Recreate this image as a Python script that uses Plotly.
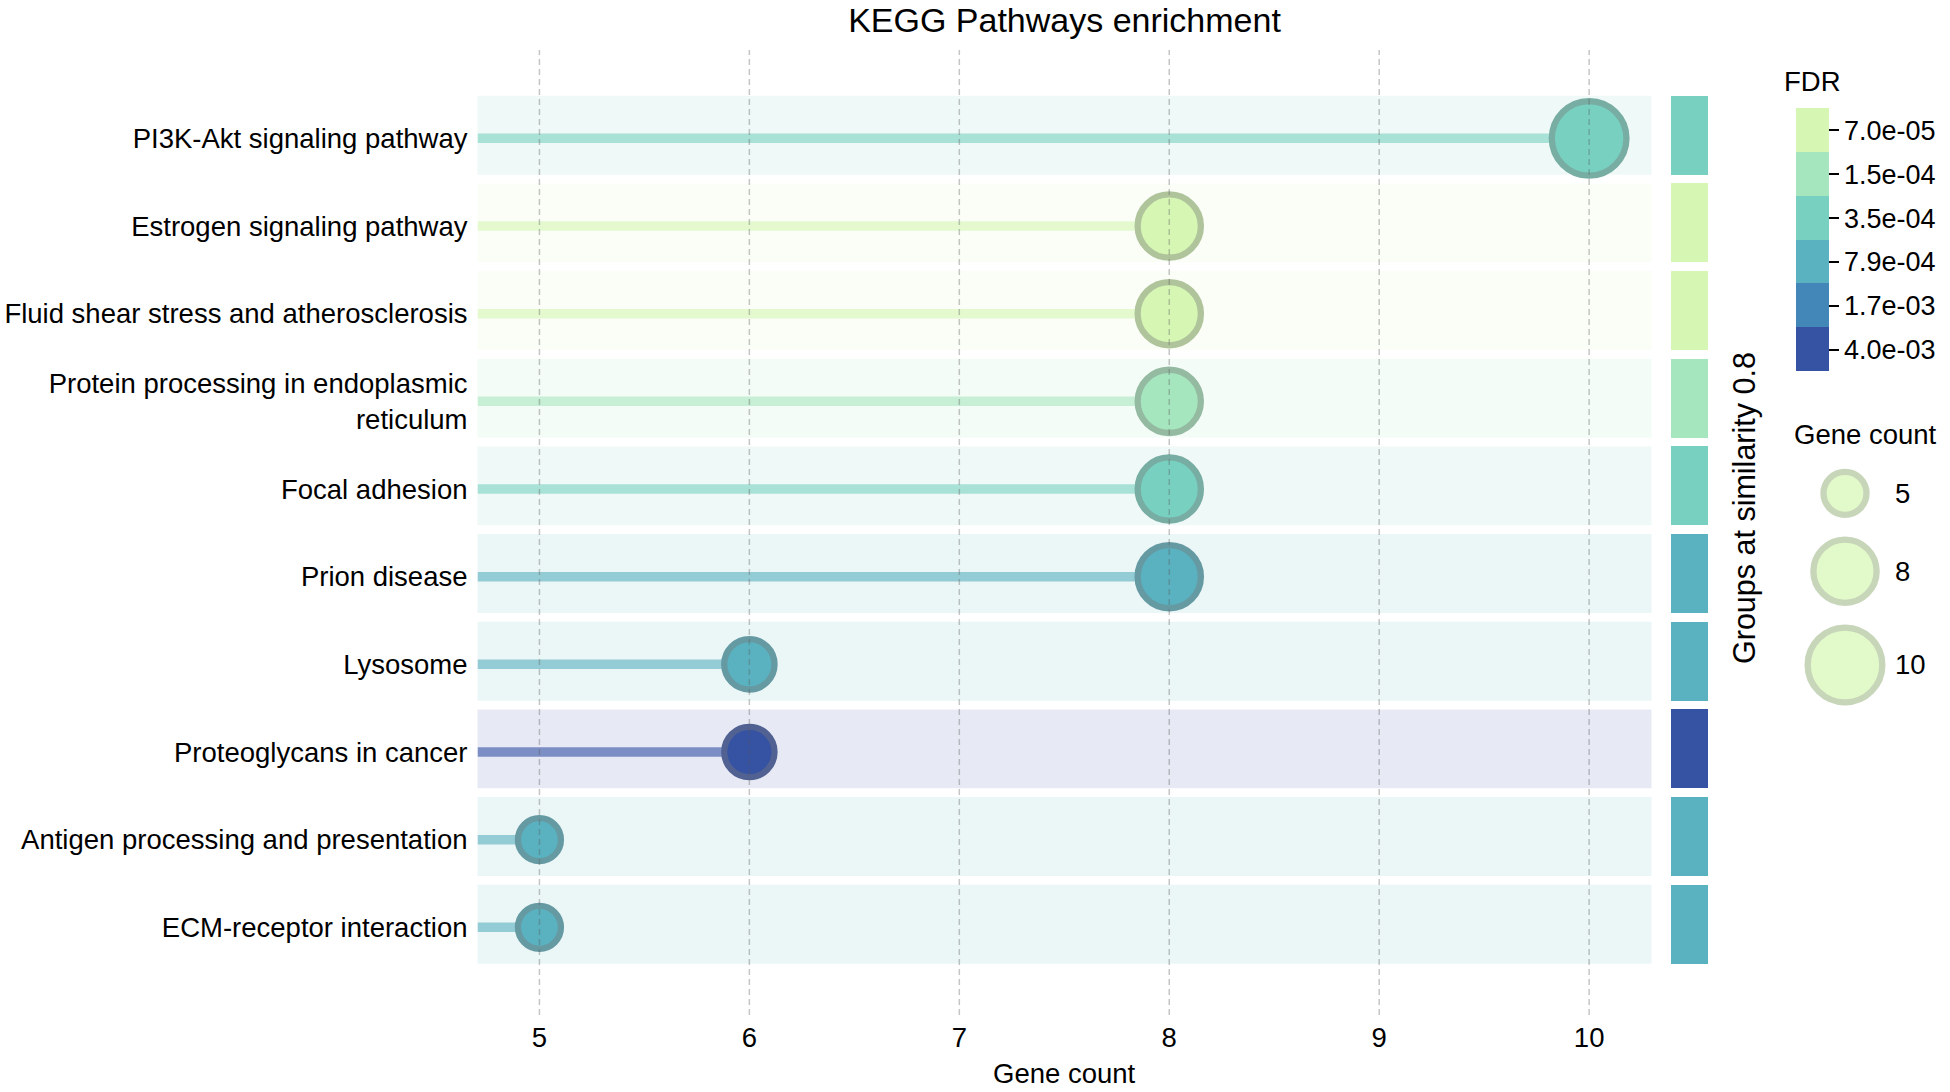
import math
import plotly.graph_objects as go

# ---------------- data ----------------
pathways = [
    "PI3K-Akt signaling pathway",
    "Estrogen signaling pathway",
    "Fluid shear stress and atherosclerosis",
    "Protein processing in endoplasmic<br>reticulum",
    "Focal adhesion",
    "Prion disease",
    "Lysosome",
    "Proteoglycans in cancer",
    "Antigen processing and presentation",
    "ECM-receptor interaction",
]
gene_counts = [10, 8, 8, 8, 8, 8, 6, 6, 5, 5]
fdr_values = [3.5e-04, 7.0e-05, 7.0e-05, 1.5e-04, 3.5e-04, 7.9e-04, 7.9e-04, 4.0e-03, 7.9e-04, 7.9e-04]
group_fdr = [3.5e-04, 7.0e-05, 7.0e-05, 1.5e-04, 3.5e-04, 7.9e-04, 7.9e-04, 4.0e-03, 7.9e-04, 7.9e-04]

fdr_ticks = [7.0e-05, 1.5e-04, 3.5e-04, 7.9e-04, 1.7e-03, 4.0e-03]
fdr_colors = ["#d6f7b4", "#a6e6be", "#78d0c0", "#5ab1c0", "#4287b8", "#3652a3"]
x_ticks = [5, 6, 7, 8, 9, 10]
legend_counts = [5, 8, 10]

# ---------------- geometry / style ----------------
W, H = 1950, 1092
FONT = "Liberation Sans, Arial, sans-serif"
FS = 27.5
X_RANGE = [4.705, 10.297]
Y_RANGE = [10.0, -1.008]
LW = 6.3
BAND_LO, BAND_HI = 0.486, 0.414


def hex_rgb(h):
    h = h.lstrip("#")
    return tuple(int(h[i:i + 2], 16) for i in (0, 2, 4))


def fdr_bin(v):
    lv = math.log10(v)
    return min(range(len(fdr_ticks)), key=lambda i: abs(math.log10(fdr_ticks[i]) - lv))


def border(hexc):
    r, g, b = hex_rgb(hexc)
    return "rgb(%d,%d,%d)" % tuple(round(c * 0.6 + 120 * 0.4) for c in (r, g, b))


def rgba(hexc, a):
    r, g, b = hex_rgb(hexc)
    return "rgba(%d,%d,%d,%.2f)" % (r, g, b, a)


def outer_d(g):
    return 34.2 * math.sqrt(g) - 27.2


rows = list(range(len(pathways)))
bins = [fdr_bin(v) for v in fdr_values]
cols = [fdr_colors[b] for b in bins]
gcols = [fdr_colors[fdr_bin(v)] for v in group_fdr]
nb = len(fdr_ticks)

# stepped colorscale: index 0 (bottom) = largest FDR
cs = []
for k in range(nb):
    c = fdr_colors[nb - 1 - k]
    cs.append([k / nb, c])
    cs.append([(k + 1) / nb, c])

fig = go.Figure()

# stems
for i, g, c in zip(rows, gene_counts, cols):
    fig.add_trace(go.Scatter(
        x=[X_RANGE[0], g], y=[i, i], mode="lines",
        line=dict(color=rgba(c, 0.6), width=9.5),
        hoverinfo="skip", showlegend=False, xaxis="x", yaxis="y"))

# bubbles (carry the FDR colorbar)
fig.add_trace(go.Scatter(
    x=gene_counts, y=rows, mode="markers", showlegend=False,
    marker=dict(
        size=[outer_d(g) - LW for g in gene_counts],
        color=[nb - 1 - b for b in bins],
        colorscale=cs, cmin=-0.5, cmax=nb - 0.5,
        opacity=1,
        line=dict(color=[border(c) for c in cols], width=LW),
        showscale=True,
        colorbar=dict(
            x=1795.7 / W, xanchor="left", xpad=0,
            y=1 - 240 / H, yanchor="middle", ypad=0,
            len=263.4, lenmode="pixels",
            thickness=32.6, thicknessmode="pixels",
            outlinewidth=0,
            tickvals=list(range(nb)),
            ticktext=["%.1e" % v for v in reversed(fdr_ticks)],
            ticks="outside", ticklen=10, tickwidth=2, tickcolor="black",
            tickfont=dict(size=27, color="black", family=FONT),
        ),
    ),
    cliponaxis=False, xaxis="x", yaxis="y"))

# group bars
fig.add_trace(go.Bar(
    x=[1] * len(rows), y=rows, base=0, orientation="h",
    width=BAND_LO + BAND_HI, offset=-BAND_LO,
    marker=dict(color=gcols, line=dict(width=0)),
    showlegend=False, hoverinfo="skip", xaxis="x2", yaxis="y"))

# size legend
leg_y = []
top = 468.7
for g in legend_counts:
    d = outer_d(g)
    leg_y.append(top + d / 2)
    top += d + 18.5
fig.add_trace(go.Scatter(
    x=[1845] * len(legend_counts), y=leg_y, mode="markers", showlegend=False,
    marker=dict(size=[outer_d(g) - LW for g in legend_counts], color=fdr_colors[0],
                line=dict(color=border(fdr_colors[0]), width=LW)),
    cliponaxis=False, hoverinfo="skip", xaxis="x3", yaxis="y3"))

shapes = []
for i, c in zip(rows, cols):
    shapes.append(dict(type="rect", xref="x domain", x0=0, x1=1, yref="y",
                       y0=i - BAND_LO, y1=i + BAND_HI, fillcolor=rgba(c, 0.12),
                       line=dict(width=0), layer="below"))
for t in x_ticks:
    shapes.append(dict(type="line", xref="x", x0=t, x1=t, yref="y domain", y0=0, y1=1,
                       line=dict(color="rgba(90,90,90,0.35)", width=1.5, dash="6px,4px"),
                       layer="above"))

annotations = [
    dict(text="Gene count", xref="paper", yref="paper", x=1064.5 / W, y=1 - 1073 / H,
         xanchor="center", yanchor="middle", showarrow=False, font=dict(size=FS)),
    dict(text="Groups at similarity 0.8", xref="paper", yref="paper", x=1744 / W, y=1 - 508 / H,
         xanchor="center", yanchor="middle", textangle=-90, showarrow=False, font=dict(size=30.5)),
    dict(text="FDR", xref="paper", yref="paper", x=1812 / W, y=1 - 82 / H,
         xanchor="center", yanchor="middle", showarrow=False, font=dict(size=FS)),
    dict(text="Gene count", xref="paper", yref="paper", x=1865 / W, y=1 - 435 / H,
         xanchor="center", yanchor="middle", showarrow=False, font=dict(size=FS)),
]
for g, yy in zip(legend_counts, leg_y):
    annotations.append(dict(text=str(g), xref="x3", yref="y3", x=1893, y=yy,
                            xanchor="left", yanchor="middle", showarrow=False,
                            font=dict(size=FS)))

fig.update_layout(
    width=W, height=H, margin=dict(l=0, r=0, t=0, b=0),
    paper_bgcolor="white", plot_bgcolor="rgba(0,0,0,0)",
    font=dict(family=FONT, size=FS, color="black"),
    title=dict(text="KEGG Pathways enrichment", x=1064.5 / W, xanchor="center",
               y=1 - 20 / H, yanchor="middle", font=dict(size=34)),
    xaxis=dict(domain=[477.5 / W, 1651.5 / W], range=X_RANGE, tickvals=x_ticks,
               showgrid=False, zeroline=False, showline=False, ticks="",
               ticklabelstandoff=3, tickfont=dict(size=FS), anchor="y"),
    yaxis=dict(domain=[1 - 1015 / H, 1 - 50 / H], range=Y_RANGE, tickvals=rows,
               ticktext=pathways, showgrid=False, zeroline=False, showline=False,
               ticks="", ticklabelstandoff=9, tickfont=dict(size=FS), anchor="x"),
    xaxis2=dict(domain=[1670.5 / W, 1708 / W], range=[0, 1], visible=False, anchor="y"),
    xaxis3=dict(domain=[0, 1], range=[0, W], visible=False, anchor="y3"),
    yaxis3=dict(domain=[0, 1], range=[H, 0], visible=False, anchor="x3"),
    shapes=shapes, annotations=annotations, bargap=0,
)

fig.write_html("out.html")
